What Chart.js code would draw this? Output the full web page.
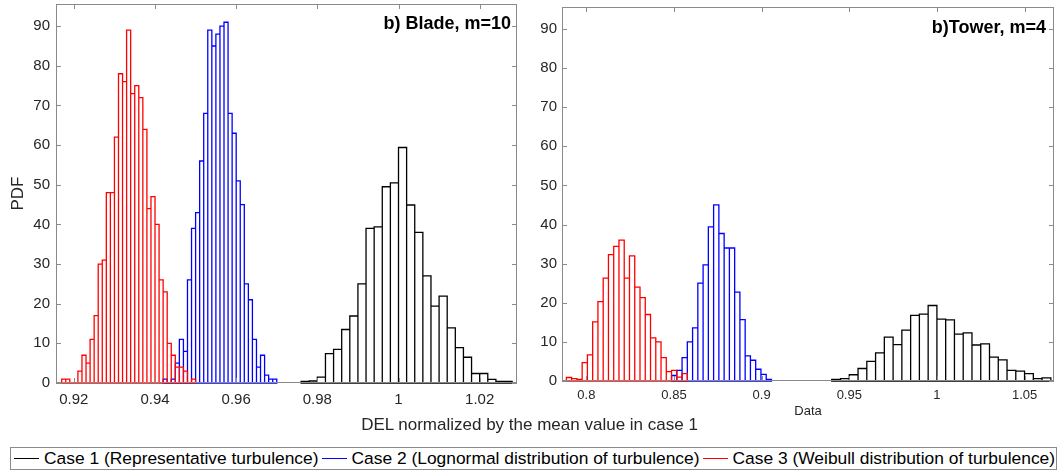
<!DOCTYPE html>
<html>
<head>
<meta charset="utf-8">
<script src="https://cdn.jsdelivr.net/npm/chart.js@4.4.0/dist/chart.umd.min.js"></script>
<style>
  body { margin: 0; background: #fff; width: 1059px; height: 472px; position: relative; overflow: hidden;
         font-family: 'Liberation Sans', Arial, sans-serif; color: #262626; }
  #bladeChart { position: absolute; left: 0; top: 0; }
  #towerChart { position: absolute; left: 530px; top: 0; }
  #xlabel { position: absolute; left: 0; width: 1059px; top: 415px; text-align: center; font-size: 17px; line-height: 20px; }
  #legend { position: absolute; left: 10px; top: 447px; width: 1045px; height: 21px; border: 1px solid #8a8a8a;
            display: flex; align-items: center; font-size: 17.4px; color: #000; white-space: nowrap; }
  .item { display: flex; align-items: center; margin-left: 3px; }
  .swatch { width: 25px; height: 0; border-top: 1.5px solid; margin-right: 5px; }
</style>
</head>
<body>
<canvas id="bladeChart" width="530" height="420"></canvas>
<canvas id="towerChart" width="529" height="420"></canvas>
<div id="xlabel">DEL normalized by the mean value in case 1</div>
<div id="legend"></div>
<script>
// -------- Data (bin counts, PDF) --------
const caseNames = ['Case 1 (Representative turbulence)', 'Case 2 (Lognormal distribution of turbulence)', 'Case 3 (Weibull distribution of turbulence)'];
const caseColors = ['#000000', '#0000ff', '#ff0000'];

// b) Blade, m=10
const bladeCase1Start = 0.976, bladeCase1Bin = 0.002;
const bladeCase1 = [0.4, 0.5, 1.5, 7.4, 8.5, 13.5, 16.9, 25, 39, 39.4, 49.5, 50.5, 59.4, 44.9, 38, 27, 19.4, 21.9, 13.9, 8.9, 6.5, 2.4, 2.4, 0.9, 0.4, 0.4];
const bladeCase2Start = 0.942, bladeCase2Bin = 0.001;
const bladeCase2 = [1, 0, 1, 5, 11, 8, 26, 39, 43, 56, 68, 89, 85, 88, 90, 91, 68, 63, 51, 45, 25, 21, 11, 4, 7, 2, 1, 1];
const bladeCase3Start = 0.917, bladeCase3Bin = 0.001;
const bladeCase3 = [1, 1, 0, 0, 3, 7, 5, 11, 17, 30, 31, 48, 48, 62, 78, 76, 89, 73, 75, 72, 64, 44, 47, 40, 26, 23, 10, 7, 4, 4, 3, 0, 1];

// b) Tower, m=4
const towerCase1Start = 0.940, towerCase1Bin = 0.005;
const towerCase1 = [0.4, 0.6, 1.6, 3.2, 5.0, 7.2, 11.2, 9.3, 13.0, 16.8, 17.1, 19.3, 15.8, 15.6, 12.0, 12.3, 9.2, 9.5, 6.1, 5.4, 2.7, 2.5, 1.9, 0.6, 0.8];
const towerCase2Start = 0.8486, towerCase2Bin = 0.003;
const towerCase2 = [1.4, 2.7, 6.0, 10.0, 13.6, 25.0, 29.7, 39.4, 45.0, 37.7, 34.0, 34.0, 22.7, 15.7, 6.4, 5.3, 3.0, 1.7, 0.4];
const towerCase3Start = 0.7886, towerCase3Bin = 0.003;
const towerCase3 = [0.9, 0.6, 0.4, 4.7, 6.7, 15.1, 20.3, 26.3, 32.3, 34.4, 36.0, 26.3, 32.0, 24.0, 21.3, 17.0, 11.0, 10.0, 6.0, 2.4, 2.7, 1.0, 1.9];

// axes
const bladeXTicks = [0.92, 0.94, 0.96, 0.98, 1, 1.02];
const towerXTicks = [0.8, 0.85, 0.9, 0.95, 1, 1.05];
const yTicks = [0, 10, 20, 30, 40, 50, 60, 70, 80, 90];
const bladeXMin = 0.9156, bladeXMax = 1.0292;
const towerXMin = 0.7861, towerXMax = 1.0668;
const yMax = 95.6;

// -------- helpers --------
function histPoints(start, bin, counts) {
    return counts.map((c, i) => ({ x: start + (i + 0.5) * bin, y: c }));
}

// outlines of the bar elements (shared edges like MATLAB's histogram),
// then the axes box, inward ticks and panel label
const framePlugin = {
    id: 'frame',
    afterDatasetsDraw(chart, args, opts) {
        const { ctx, chartArea: a, scales } = chart;
        const x = scales.x, y = scales.y;
        ctx.save();
        ctx.lineWidth = 1.3;
        chart.data.datasets.forEach((ds, di) => {
            const meta = chart.getDatasetMeta(di);
            ctx.strokeStyle = ds.edgeColor;
            ctx.beginPath();
            meta.data.forEach(bar => {
                const p = bar.getProps(['x', 'y', 'base', 'width'], true);
                ctx.rect(p.x - p.width / 2, p.y, p.width, p.base - p.y);
            });
            ctx.stroke();
        });

        ctx.lineWidth = 1;
        ctx.strokeStyle = '#8a8a8a';
        ctx.strokeRect(a.left + 0.5, a.top + 0.5, a.width - 1, a.height - 1);
        ctx.beginPath();
        x.ticks.forEach(t => {
            const px = Math.round(x.getPixelForValue(t.value)) + 0.5;
            ctx.moveTo(px, a.bottom); ctx.lineTo(px, a.bottom - 5);
            ctx.moveTo(px, a.top); ctx.lineTo(px, a.top + 5);
        });
        y.ticks.forEach(t => {
            const py = Math.round(y.getPixelForValue(t.value)) + 0.5;
            ctx.moveTo(a.left, py); ctx.lineTo(a.left + 5, py);
            ctx.moveTo(a.right, py); ctx.lineTo(a.right - 5, py);
        });
        ctx.stroke();
        ctx.font = opts.font;
        ctx.fillStyle = '#000';
        ctx.textAlign = 'right';
        ctx.textBaseline = 'middle';
        ctx.fillText(opts.label, a.right - opts.dx, a.top + opts.dy);
        ctx.restore();
    }
};

function makePanel(canvasId, series, range, xTicks, cfg) {
    const axisIds = ['x', 'x2', 'x3'];
    const datasets = series.map((s, i) => ({
        label: caseNames[i],
        data: histPoints(s[0], s[1], s[2]),
        xAxisID: axisIds[i],
        edgeColor: caseColors[i],
        borderColor: caseColors[i],
        backgroundColor: 'rgba(0,0,0,0)',
        borderWidth: 0,
        grouped: false,
        barPercentage: 1,
        categoryPercentage: 1
    }));
    const hidden = () => ({ type: 'linear', min: range[0], max: range[1], offset: false, display: false });
    const chart = new Chart(document.getElementById(canvasId), {
        type: 'bar',
        data: { datasets },
        options: {
            responsive: false,
            animation: false,
            layout: { padding: cfg.padding },
            plugins: {
                legend: { display: false },
                tooltip: { enabled: false },
                frame: { label: cfg.label, font: 'bold 18px "Liberation Sans", Arial, sans-serif', dx: cfg.labelDx, dy: cfg.labelDy }
            },
            scales: {
                x: {
                    type: 'linear', min: range[0], max: range[1], offset: false,
                    afterBuildTicks: s => { s.ticks = xTicks.map(v => ({ value: v })); },
                    afterFit: s => { s.height = cfg.xHeight; s.paddingLeft = 0; s.paddingRight = 0; },
                    grid: { display: false, drawTicks: false },
                    border: { display: false },
                    ticks: {
                        color: '#262626', padding: cfg.xPad,
                        font: { family: '"Liberation Sans", Arial, sans-serif', size: cfg.xFont },
                        callback: v => String(+v.toFixed(3))
                    },
                    title: cfg.xTitle
                },
                x2: hidden(),
                x3: hidden(),
                y: {
                    min: 0, max: yMax,
                    afterBuildTicks: s => { s.ticks = yTicks.map(v => ({ value: v })); },
                    afterFit: s => { s.width = cfg.yWidth; s.paddingTop = 0; s.paddingBottom = 0; },
                    grid: { display: false, drawTicks: false },
                    border: { display: false },
                    ticks: {
                        color: '#262626', padding: cfg.yPad,
                        font: { family: '"Liberation Sans", Arial, sans-serif', size: 15 }
                    },
                    title: cfg.yTitle
                }
            }
        },
        plugins: [framePlugin]
    });

    // bar width = one bin, measured on the library's x scale
    const xs = chart.scales.x;
    chart.data.datasets.forEach((ds, i) => {
        ds.barThickness = xs.getPixelForValue(range[0] + series[i][1]) - xs.getPixelForValue(range[0]);
    });
    chart.update();
    return chart;
}

// -------- Blade panel --------
makePanel('bladeChart',
    [[bladeCase1Start, bladeCase1Bin, bladeCase1],
     [bladeCase2Start, bladeCase2Bin, bladeCase2],
     [bladeCase3Start, bladeCase3Bin, bladeCase3]],
    [bladeXMin, bladeXMax], bladeXTicks,
    {
        padding: { left: 0, right: 13, top: 4, bottom: 0 },
        xHeight: 37, yWidth: 56, xFont: 15, xPad: 8, yPad: 6,
        label: 'b) Blade, m=10', labelDx: 6, labelDy: 20,
        xTitle: { display: false },
        yTitle: { display: true, text: 'PDF', color: '#262626', padding: { top: 8, bottom: 0 },
                  font: { family: '"Liberation Sans", Arial, sans-serif', size: 17 } }
    });

// -------- Tower panel --------
makePanel('towerChart',
    [[towerCase1Start, towerCase1Bin, towerCase1],
     [towerCase2Start, towerCase2Bin, towerCase2],
     [towerCase3Start, towerCase3Bin, towerCase3]],
    [towerXMin, towerXMax], towerXTicks,
    {
        padding: { left: 0, right: 5, top: 7, bottom: 0 },
        xHeight: 39, yWidth: 32, xFont: 13, xPad: 7, yPad: 5,
        label: 'b)Tower, m=4', labelDx: 8, labelDy: 21,
        xTitle: { display: true, text: 'Data', color: '#262626', padding: { top: 0, bottom: 1 },
                  font: { family: '"Liberation Sans", Arial, sans-serif', size: 13 } },
        yTitle: { display: false }
    });

// -------- Shared legend --------
const legendBox = document.getElementById('legend');
caseNames.forEach((name, i) => {
    const item = document.createElement('div');
    item.className = 'item';
    const sw = document.createElement('span');
    sw.className = 'swatch';
    sw.style.borderColor = caseColors[i];
    const txt = document.createElement('span');
    txt.textContent = name;
    item.appendChild(sw);
    item.appendChild(txt);
    legendBox.appendChild(item);
});
</script>
</body>
</html>
